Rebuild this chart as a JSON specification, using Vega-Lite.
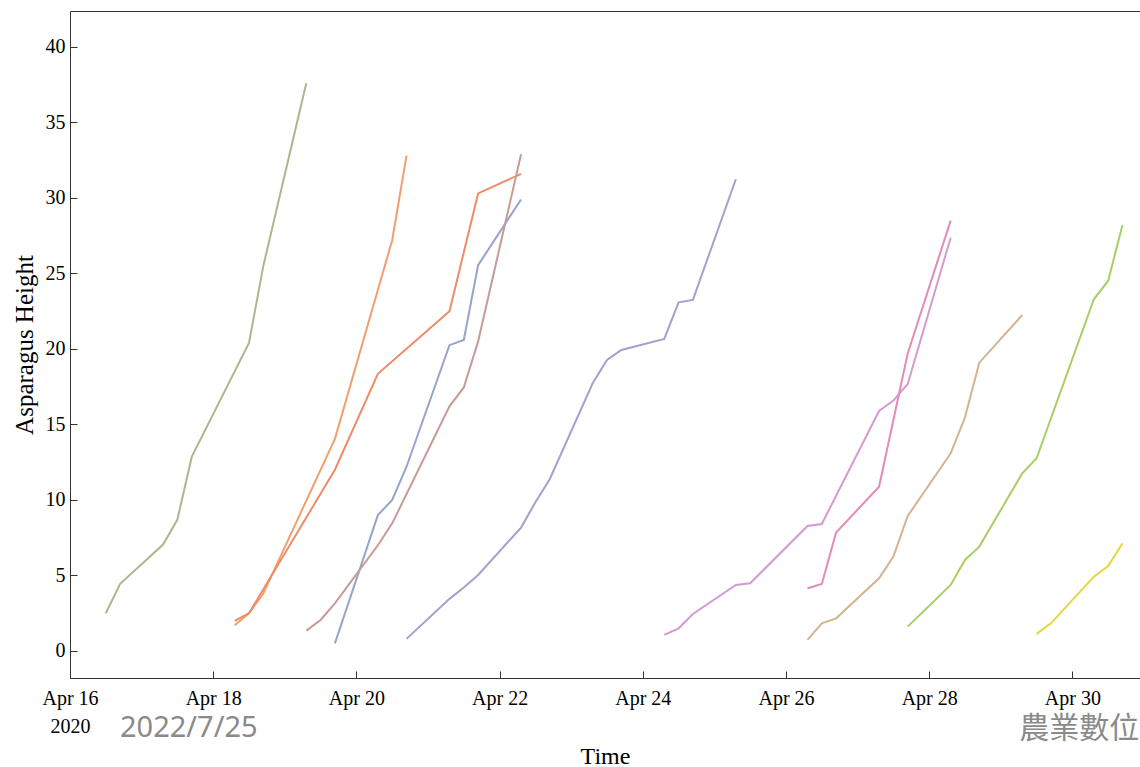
{
  "$schema": "https://vega.github.io/schema/vega-lite/v6.json",
  "width": 1070,
  "height": 667,
  "autosize": {"type": "none"},
  "padding": {"left": 70, "top": 11, "right": 0, "bottom": 89},
  "background": "white",
  "config": {"view": {"stroke": null}, "font": "Liberation Serif"},
  "datasets": {
    "growth": [
      {"plant": "p01", "time": "2020-04-16T12:00:00Z", "height": 2.5},
      {"plant": "p01", "time": "2020-04-16T16:48:00Z", "height": 4.45},
      {"plant": "p01", "time": "2020-04-17T07:12:00Z", "height": 7.05},
      {"plant": "p01", "time": "2020-04-17T12:00:00Z", "height": 8.7},
      {"plant": "p01", "time": "2020-04-17T16:48:00Z", "height": 12.85},
      {"plant": "p01", "time": "2020-04-18T12:00:00Z", "height": 20.4},
      {"plant": "p01", "time": "2020-04-18T16:48:00Z", "height": 25.5},
      {"plant": "p01", "time": "2020-04-19T07:12:00Z", "height": 37.6},

      {"plant": "p02", "time": "2020-04-18T07:12:00Z", "height": 1.7},
      {"plant": "p02", "time": "2020-04-18T12:00:00Z", "height": 2.5},
      {"plant": "p02", "time": "2020-04-18T16:48:00Z", "height": 3.8},
      {"plant": "p02", "time": "2020-04-19T16:48:00Z", "height": 14.05},
      {"plant": "p02", "time": "2020-04-20T12:00:00Z", "height": 27.2},
      {"plant": "p02", "time": "2020-04-20T16:48:00Z", "height": 32.8},

      {"plant": "p03", "time": "2020-04-18T07:12:00Z", "height": 2.0},
      {"plant": "p03", "time": "2020-04-18T12:00:00Z", "height": 2.5},
      {"plant": "p03", "time": "2020-04-19T16:48:00Z", "height": 12.0},
      {"plant": "p03", "time": "2020-04-20T07:12:00Z", "height": 18.35},
      {"plant": "p03", "time": "2020-04-21T07:12:00Z", "height": 22.5},
      {"plant": "p03", "time": "2020-04-21T16:48:00Z", "height": 30.3},
      {"plant": "p03", "time": "2020-04-22T07:12:00Z", "height": 31.6},

      {"plant": "p04", "time": "2020-04-19T16:48:00Z", "height": 0.5},
      {"plant": "p04", "time": "2020-04-20T07:12:00Z", "height": 9.0},
      {"plant": "p04", "time": "2020-04-20T12:00:00Z", "height": 10.0},
      {"plant": "p04", "time": "2020-04-20T16:48:00Z", "height": 12.2},
      {"plant": "p04", "time": "2020-04-21T07:12:00Z", "height": 20.25},
      {"plant": "p04", "time": "2020-04-21T12:00:00Z", "height": 20.6},
      {"plant": "p04", "time": "2020-04-21T16:48:00Z", "height": 25.55},
      {"plant": "p04", "time": "2020-04-22T07:12:00Z", "height": 29.9},

      {"plant": "p05", "time": "2020-04-19T07:12:00Z", "height": 1.35},
      {"plant": "p05", "time": "2020-04-19T12:00:00Z", "height": 2.05},
      {"plant": "p05", "time": "2020-04-19T16:48:00Z", "height": 3.15},
      {"plant": "p05", "time": "2020-04-20T07:12:00Z", "height": 7.0},
      {"plant": "p05", "time": "2020-04-20T12:00:00Z", "height": 8.45},
      {"plant": "p05", "time": "2020-04-21T07:12:00Z", "height": 16.2},
      {"plant": "p05", "time": "2020-04-21T12:00:00Z", "height": 17.45},
      {"plant": "p05", "time": "2020-04-21T16:48:00Z", "height": 20.5},
      {"plant": "p05", "time": "2020-04-22T07:12:00Z", "height": 32.9},

      {"plant": "p06", "time": "2020-04-20T16:48:00Z", "height": 0.8},
      {"plant": "p06", "time": "2020-04-21T07:12:00Z", "height": 3.45},
      {"plant": "p06", "time": "2020-04-21T12:00:00Z", "height": 4.2},
      {"plant": "p06", "time": "2020-04-21T16:48:00Z", "height": 5.03},
      {"plant": "p06", "time": "2020-04-22T07:12:00Z", "height": 8.17},
      {"plant": "p06", "time": "2020-04-22T12:00:00Z", "height": 9.85},
      {"plant": "p06", "time": "2020-04-22T16:48:00Z", "height": 11.37},
      {"plant": "p06", "time": "2020-04-23T07:12:00Z", "height": 17.73},
      {"plant": "p06", "time": "2020-04-23T12:00:00Z", "height": 19.27},
      {"plant": "p06", "time": "2020-04-23T16:48:00Z", "height": 19.93},
      {"plant": "p06", "time": "2020-04-24T07:12:00Z", "height": 20.66},
      {"plant": "p06", "time": "2020-04-24T12:00:00Z", "height": 23.09},
      {"plant": "p06", "time": "2020-04-24T16:48:00Z", "height": 23.25},
      {"plant": "p06", "time": "2020-04-25T07:12:00Z", "height": 31.24},

      {"plant": "p07", "time": "2020-04-24T07:12:00Z", "height": 1.06},
      {"plant": "p07", "time": "2020-04-24T12:00:00Z", "height": 1.5},
      {"plant": "p07", "time": "2020-04-24T16:48:00Z", "height": 2.45},
      {"plant": "p07", "time": "2020-04-25T07:12:00Z", "height": 4.37},
      {"plant": "p07", "time": "2020-04-25T12:00:00Z", "height": 4.48},
      {"plant": "p07", "time": "2020-04-26T07:12:00Z", "height": 8.28},
      {"plant": "p07", "time": "2020-04-26T12:00:00Z", "height": 8.41},
      {"plant": "p07", "time": "2020-04-27T07:12:00Z", "height": 15.89},
      {"plant": "p07", "time": "2020-04-27T12:00:00Z", "height": 16.58},
      {"plant": "p07", "time": "2020-04-27T16:48:00Z", "height": 17.68},
      {"plant": "p07", "time": "2020-04-28T07:12:00Z", "height": 27.37},

      {"plant": "p08", "time": "2020-04-26T07:12:00Z", "height": 4.15},
      {"plant": "p08", "time": "2020-04-26T12:00:00Z", "height": 4.44},
      {"plant": "p08", "time": "2020-04-26T16:48:00Z", "height": 7.84},
      {"plant": "p08", "time": "2020-04-27T07:12:00Z", "height": 10.88},
      {"plant": "p08", "time": "2020-04-27T12:00:00Z", "height": 15.3},
      {"plant": "p08", "time": "2020-04-27T16:48:00Z", "height": 19.7},
      {"plant": "p08", "time": "2020-04-28T07:12:00Z", "height": 28.5},

      {"plant": "p09", "time": "2020-04-26T07:12:00Z", "height": 0.73},
      {"plant": "p09", "time": "2020-04-26T12:00:00Z", "height": 1.83},
      {"plant": "p09", "time": "2020-04-26T16:48:00Z", "height": 2.16},
      {"plant": "p09", "time": "2020-04-27T07:12:00Z", "height": 4.81},
      {"plant": "p09", "time": "2020-04-27T12:00:00Z", "height": 6.25},
      {"plant": "p09", "time": "2020-04-27T16:48:00Z", "height": 8.94},
      {"plant": "p09", "time": "2020-04-28T07:12:00Z", "height": 13.09},
      {"plant": "p09", "time": "2020-04-28T12:00:00Z", "height": 15.47},
      {"plant": "p09", "time": "2020-04-28T16:48:00Z", "height": 19.09},
      {"plant": "p09", "time": "2020-04-29T07:12:00Z", "height": 22.25},

      {"plant": "p10", "time": "2020-04-27T16:48:00Z", "height": 1.61},
      {"plant": "p10", "time": "2020-04-28T07:12:00Z", "height": 4.37},
      {"plant": "p10", "time": "2020-04-28T12:00:00Z", "height": 6.03},
      {"plant": "p10", "time": "2020-04-28T16:48:00Z", "height": 6.91},
      {"plant": "p10", "time": "2020-04-29T07:12:00Z", "height": 11.77},
      {"plant": "p10", "time": "2020-04-29T12:00:00Z", "height": 12.76},
      {"plant": "p10", "time": "2020-04-30T07:12:00Z", "height": 23.29},
      {"plant": "p10", "time": "2020-04-30T12:00:00Z", "height": 24.52},
      {"plant": "p10", "time": "2020-04-30T16:48:00Z", "height": 28.21},

      {"plant": "p11", "time": "2020-04-29T12:00:00Z", "height": 1.13},
      {"plant": "p11", "time": "2020-04-29T16:48:00Z", "height": 1.83},
      {"plant": "p11", "time": "2020-04-30T07:12:00Z", "height": 4.92},
      {"plant": "p11", "time": "2020-04-30T12:00:00Z", "height": 5.63},
      {"plant": "p11", "time": "2020-04-30T16:48:00Z", "height": 7.13}
    ],
    "dateNote": [
      {"time": "2020-04-16T16:45:00Z", "height": -5.7, "label": "2022/7/25"}
    ],
    "orgNote": [
      {"time": "2020-04-29T06:09:00Z", "height": -5.75, "label": "農業數位"}
    ]
  },
  "layer": [
    {
      "data": {"name": "growth"},
      "mark": {"type": "line", "strokeWidth": 2, "clip": true},
      "encoding": {
        "x": {
          "field": "time",
          "type": "temporal",
          "scale": {
            "type": "utc",
            "domain": [
              {"year": 2020, "month": 4, "date": 16, "utc": true},
              {"year": 2020, "month": 4, "date": 30, "hours": 22, "minutes": 40, "utc": true}
            ]
          },
          "axis": {
            "orient": "bottom",
            "values": [
              {"year": 2020, "month": 4, "date": 16, "utc": true},
              {"year": 2020, "month": 4, "date": 18, "utc": true},
              {"year": 2020, "month": 4, "date": 20, "utc": true},
              {"year": 2020, "month": 4, "date": 22, "utc": true},
              {"year": 2020, "month": 4, "date": 24, "utc": true},
              {"year": 2020, "month": 4, "date": 26, "utc": true},
              {"year": 2020, "month": 4, "date": 28, "utc": true},
              {"year": 2020, "month": 4, "date": 30, "utc": true}
            ],
            "labelExpr": "utcdate(datum.value) == 16 ? ['Apr 16', '2020'] : utcFormat(datum.value, '%b %d')",
            "labelFont": "Liberation Serif",
            "labelFontSize": 20,
            "labelColor": "#000000",
            "labelLineHeight": 28,
            "labelFlush": false,
            "labelOverlap": false,
            "labelPadding": 17,
            "tickSize": -7,
            "tickColor": "#333333",
            "domainColor": "#333333",
            "grid": false,
            "title": "Time",
            "titleFont": "Liberation Serif",
            "titleFontSize": 24,
            "titleFontWeight": "normal",
            "titleColor": "#000000",
            "titlePadding": 8
          }
        },
        "y": {
          "field": "height",
          "type": "quantitative",
          "scale": {"domain": [-1.79, 42.38], "nice": false, "zero": false},
          "axis": {
            "values": [0, 5, 10, 15, 20, 25, 30, 35, 40],
            "labelFont": "Liberation Serif",
            "labelFontSize": 20,
            "labelColor": "#000000",
            "labelFlush": false,
            "labelPadding": 12,
            "tickSize": -7,
            "tickColor": "#333333",
            "domainColor": "#333333",
            "grid": false,
            "title": "Asparagus Height",
            "titleFont": "Liberation Serif",
            "titleFontSize": 25,
            "titleFontWeight": "normal",
            "titleColor": "#000000",
            "titlePadding": 8
          }
        },
        "color": {
          "field": "plant",
          "type": "nominal",
          "scale": {
            "domain": ["p01", "p02", "p03", "p04", "p05", "p06", "p07", "p08", "p09", "p10", "p11"],
            "range": ["#b1b58e", "#efa06e", "#ee8b69", "#96a3cf", "#c99a94", "#aa9dcf", "#d49bd0", "#e38bb8", "#d3b48f", "#a7cf63", "#e3d83a"]
          },
          "legend": null
        }
      }
    },
    {
      "data": {"name": "dateNote"},
      "mark": {"type": "text", "font": "Noto Sans", "fontSize": 29, "color": "#8a8a8a", "align": "left", "baseline": "alphabetic"},
      "encoding": {
        "x": {
          "field": "time",
          "type": "temporal",
          "axis": {"orient": "top", "labels": false, "ticks": false, "domain": true, "domainColor": "#333333", "grid": false, "title": null}
        },
        "y": {"field": "height", "type": "quantitative", "title": "Asparagus Height"},
        "text": {"field": "label"}
      }
    },
    {
      "data": {"name": "orgNote"},
      "mark": {"type": "text", "font": "Noto Sans CJK TC", "fontSize": 30, "color": "#8a8a8a", "align": "left", "baseline": "alphabetic"},
      "encoding": {
        "x": {"field": "time", "type": "temporal", "axis": null},
        "y": {"field": "height", "type": "quantitative", "title": "Asparagus Height"},
        "text": {"field": "label"}
      }
    }
  ],
  "resolve": {"axis": {"x": "independent"}}
}
